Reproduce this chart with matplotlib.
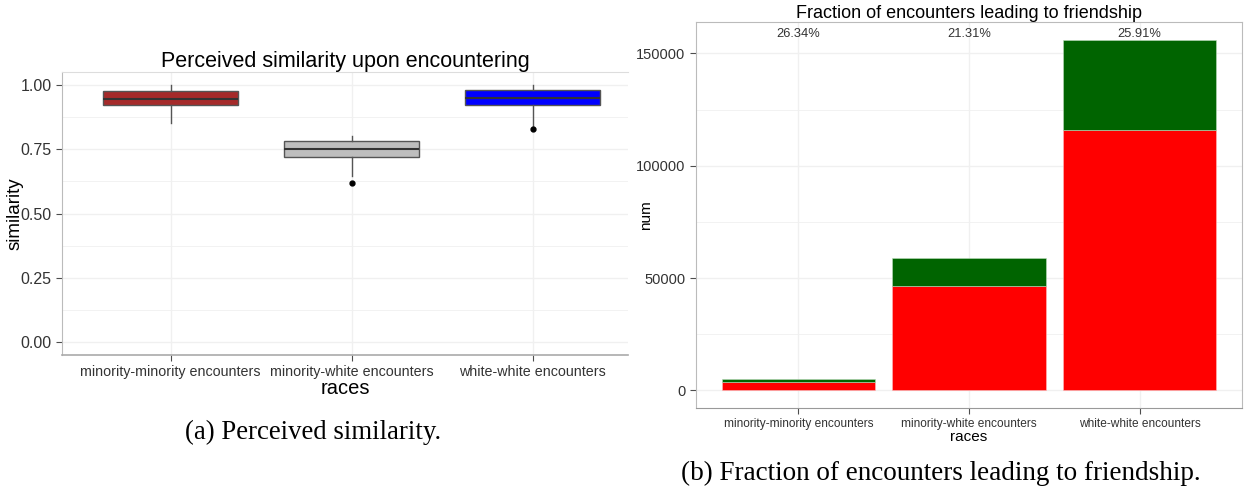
import numpy as np
import matplotlib
matplotlib.use("Agg")
import matplotlib.pyplot as plt
from matplotlib.ticker import MultipleLocator

plt.rcParams['font.family'] = ['Liberation Sans', 'DejaVu Sans']

# datos
categorias = ["minority-minority encounters", "minority-white encounters", "white-white encounters"]
colores_caja = ["#A52A2A", "#BEBEBE", "#0000FF"]
q1 = [0.92, 0.72, 0.92]
mediana = [0.945, 0.75, 0.95]
q3 = [0.975, 0.78, 0.98]
bigote_bajo = [0.85, 0.645, 0.84]
bigote_alto = [1.0, 0.80, 1.0]
atipicos = [[], [0.62], [0.83]]

no_amistad = [3830, 46430, 115730]
amistad = [1370, 12570, 40470]
porcentajes = ["26.34%", "21.31%", "25.91%"]

grid_c = "#f0f0f0"
tick_c = "#4d4d4d"

fig = plt.figure(figsize=(12.44, 4.93), dpi=100)

# panel (a)
ax1 = fig.add_axes([62 / 1244, 1 - 355 / 493, (628 - 62) / 1244, (355 - 72) / 493])
stats = []
for i in range(3):
    stats.append(dict(med=mediana[i], q1=q1[i], q3=q3[i], whislo=bigote_bajo[i],
                      whishi=bigote_alto[i], fliers=atipicos[i]))
bp = ax1.bxp(stats, positions=[1, 2, 3], widths=0.75, patch_artist=True, showcaps=False,
             boxprops=dict(edgecolor="#555555", linewidth=1.0),
             medianprops=dict(color="#333333", linewidth=1.5),
             whiskerprops=dict(color="#555555", linewidth=1.0),
             flierprops=dict(marker="o", markerfacecolor="black", markeredgecolor="black", markersize=3.5))
for caja, c in zip(bp["boxes"], colores_caja):
    caja.set_facecolor(c)
ax1.set_xlim(0.4, 3.527)
ax1.set_ylim(-0.05, 1.05)
ax1.yaxis.set_minor_locator(MultipleLocator(0.125))
ax1.set_yticks([0, 0.25, 0.5, 0.75, 1.0])
ax1.set_yticklabels(["0.00", "0.25", "0.50", "0.75", "1.00"])
ax1.set_xticks([1, 2, 3])
ax1.set_xticklabels(categorias)
ax1.grid(True, which="major", color=grid_c, linewidth=1.0)
ax1.grid(True, which="minor", axis="y", color=grid_c, linewidth=0.6)
ax1.set_axisbelow(True)
ax1.tick_params(axis="both", which="major", colors=tick_c, length=4, labelcolor="#333333")
ax1.tick_params(axis="y", which="major", labelsize=11.5)
ax1.tick_params(axis="x", which="major", labelsize=10.3)
ax1.tick_params(axis="y", which="minor", length=0)
ax1.spines["right"].set_visible(False)
ax1.spines["top"].set_color("#dddddd")
ax1.spines["left"].set_color("#bbbbbb")
ax1.spines["bottom"].set_color("#aaaaaa")
ax1.spines["bottom"].set_linewidth(1.2)
ax1.set_title("Perceived similarity upon encountering", fontsize=15.5, pad=3)
ax1.set_xlabel("races", fontsize=14.5)
ax1.set_ylabel("similarity", fontsize=13.5)
ax1.xaxis.set_label_coords(0.5, -0.084)
ax1.yaxis.set_label_coords(-0.068, 0.5)

# panel (b)
ax2 = fig.add_axes([696 / 1244, 1 - 408 / 493, (1242 - 696) / 1244, (408 - 22) / 493])
x = np.arange(1, 4)
ax2.bar(x, no_amistad, width=0.9, color="#FF0000", edgecolor="#ffbbbb", linewidth=0.4)
ax2.bar(x, amistad, width=0.9, bottom=no_amistad, color="#006400", edgecolor="#bbddbb", linewidth=0.4)
total_max = max(a + b for a, b in zip(no_amistad, amistad))
for i in range(3):
    ax2.text(x[i], total_max * 1.015, porcentajes[i], ha="center", va="center", fontsize=9.3, color="#333333")
ax2.set_xlim(0.4, 3.6)
ax2.set_ylim(-0.05 * total_max, 1.05 * total_max)
ax2.set_yticks([0, 50000, 100000, 150000])
ax2.yaxis.set_minor_locator(MultipleLocator(25000))
ax2.set_xticks(x)
ax2.set_xticklabels(categorias)
ax2.grid(True, which="major", color=grid_c, linewidth=1.0)
ax2.grid(True, which="minor", axis="y", color=grid_c, linewidth=0.6)
ax2.set_axisbelow(True)
ax2.tick_params(axis="both", which="major", colors=tick_c, length=4, labelcolor="#333333")
ax2.tick_params(axis="y", which="major", labelsize=10.5)
ax2.tick_params(axis="x", which="major", labelsize=8.6)
ax2.tick_params(axis="y", which="minor", length=0)
for s in ax2.spines.values():
    s.set_color("#bbbbbb")
ax2.spines["bottom"].set_color("#999999")
ax2.set_title("Fraction of encounters leading to friendship", fontsize=13, pad=1)
ax2.set_xlabel("races", fontsize=11)
ax2.set_ylabel("num", fontsize=11)
ax2.xaxis.set_label_coords(0.5, -0.057)
ax2.yaxis.set_label_coords(-0.0787, 0.5)

# subtítulos
fig.text(313 / 1244, 1 - 432 / 493, "(a) Perceived similarity.", ha="center", va="center",
         fontsize=19.3, family=["Liberation Serif", "DejaVu Serif"])
fig.text(941 / 1244, 1 - 473 / 493, "(b) Fraction of encounters leading to friendship.", ha="center", va="center",
         fontsize=19.5, family=["Liberation Serif", "DejaVu Serif"])

plt.savefig("out.png", dpi=100)
plt.close()
